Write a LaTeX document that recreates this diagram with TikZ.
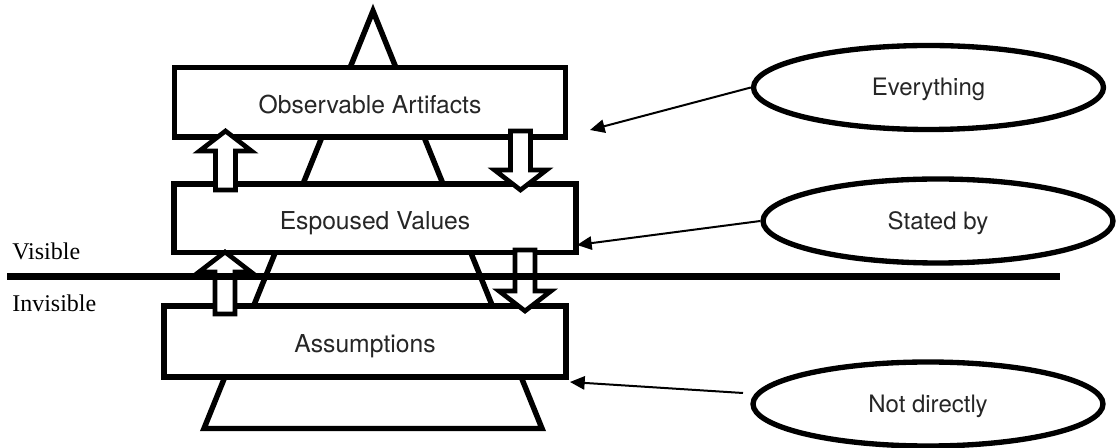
\documentclass[tikz,border=0pt]{standalone}
\usepackage{fontspec}
\setmainfont{TeX Gyre Heros}
\newfontfamily\labelserif{Liberation Serif}
\usetikzlibrary{shapes.geometric,arrows.meta}

\begin{document}
\begin{tikzpicture}[x=0.75pt,y=-0.75pt,
  layer/.style={draw, rectangle, line width=4.1pt, fill=white, inner sep=0pt,
    text height=17.2pt, text depth=0pt, text=black!85,
    font=\fontsize{18.5pt}{22pt}\selectfont},
  note/.style={draw, ellipse, line width=4pt, fill=white, inner sep=0pt,
    minimum width=262.5pt, minimum height=63pt,
    text height=12.3pt, text depth=0pt, text=black!85,
    font=\fontsize{18pt}{22pt}\selectfont},
  pointer/.style={line width=1.5pt, -{Triangle[length=11pt,width=10pt]}},
  hollow/.style={draw, line width=3.5pt, fill=white, line join=miter},
  divider/.style={line width=5.5pt},
  side/.style={font=\labelserif\fontsize{18pt}{22pt}\selectfont,
    anchor=base west, inner sep=0pt},
  pics/uparr/.style={code={
    \path[hollow] (0,0) -- (26,20) -- (10,20) -- (10,#1) -- (-10,#1)
      -- (-10,20) -- (-26,20) -- cycle;}},
  pics/downarr/.style={code={
    \path[hollow] (0,0) -- (26,-20) -- (10,-20) -- (10,-#1) -- (-10,-#1)
      -- (-10,-20) -- (-26,-20) -- cycle;}},
]
\useasboundingbox (0,0) rectangle (1117,448);

% the pyramid behind the three levels
\draw[line width=4.1pt, fill=white, line join=miter]
  (373,11) -- (204,428.5) -- (542,428.5) -- cycle;

% the three levels
\node[layer, minimum width=293.25pt, minimum height=52.1pt] (oa) at (370,102.5) {Observable Artifacts};
\node[layer, minimum width=301.2pt, minimum height=51.2pt] (es) at (375,218.3) {Espoused Values};
\node[layer, minimum width=301.2pt, minimum height=53.25pt] (as) at (365,341.3) {Assumptions};

% hollow arrows between the levels
\pic at (225.5,131) {uparr=59};
\pic at (520.5,190) {downarr=59};
\pic at (225,252) {uparr=62};
\pic at (525,311) {downarr=61};

% visible / invisible divide
\draw[divider] (7,276.3) -- (1060,276.3);
\node[side] (vis) at (12,259.3) {Visible};
\node[side] (invis) at (12,311.7) {Invisible};

% callouts
\node[note] (e1) at (928.5,87.5) {Everything};
\node[note] (e2) at (938,221) {Stated by};
\node[note] (e3) at (928,404) {Not directly};

\coordinate (t1) at (590,130);
\coordinate (t2) at (577,245);
\coordinate (t3) at (570,382);
\coordinate (s3) at (743,393);

\draw[pointer] (e1.west) -- (t1);
\draw[pointer] (e2.west) -- (t2);
\draw[pointer] (s3) -- (t3);
\end{tikzpicture}
\end{document}
